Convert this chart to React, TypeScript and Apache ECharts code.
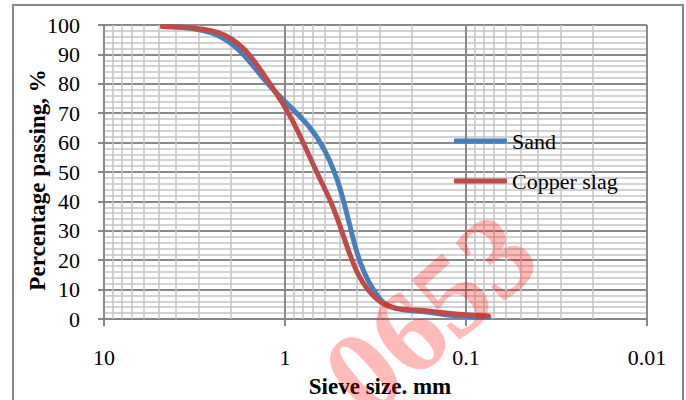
import React, { useEffect, useRef } from "react";
import * as echarts from "echarts";

const sieveSizes = [4.75, 2.36, 1.18, 0.6, 0.3, 0.15, 0.075];
const sandPassing = [99.5, 96.5, 78.5, 57, 7, 2, 0.6];
const slagPassing = [99.5, 97.5, 79, 44, 6, 2.5, 1];
const xTickLabels = ["10", "1", "0.1", "0.01"];
const decades = [1, 0.1, 0.01];
const minorMultipliers = [2, 3, 4, 5, 6, 7, 8, 9];

const SERIF = '"Liberation Serif", "Times New Roman", serif';

export default function App() {
  const ref = useRef<HTMLDivElement>(null);
  useEffect(() => {
    if (!ref.current) return;
    const chart = echarts.init(ref.current, undefined, { renderer: "svg" });
    const minorX: any[] = [];
    decades.forEach((d) => minorMultipliers.forEach((m) => minorX.push({ xAxis: +(d * m).toPrecision(3) })));
    chart.setOption({
      animation: false,
      backgroundColor: "#ffffff",
      grid: { left: 104, right: 39, top: 25, bottom: 81, outerBoundsMode: "none", containLabel: false },
      xAxis: {
        type: "log",
        logBase: 10,
        min: 0.01,
        max: 10,
        inverse: true,
        name: "Sieve size. mm",
        nameLocation: "middle",
        nameGap: 56,
        nameMoveOverlap: false,
        nameTextStyle: { fontFamily: SERIF, fontWeight: "bold", fontSize: 23, color: "#000", padding: [0, 0, 0, 9] },
        axisLine: { show: true, lineStyle: { color: "#868686", width: 2 } },
        axisTick: { show: true, length: 7, lineStyle: { color: "#868686", width: 2 } },
        axisLabel: {
          margin: 27,
          fontFamily: SERIF,
          fontSize: 22,
          color: "#000",
          formatter: (v: number) => {
            const i = Math.round(1 - Math.log10(v));
            return xTickLabels[i] ?? "";
          },
        },
        splitLine: { show: true, lineStyle: { color: "#8a8a8a", width: 2 } },
      },
      yAxis: {
        type: "value",
        min: 0,
        max: 100,
        interval: 10,
        name: "Percentage passing, %",
        nameLocation: "middle",
        nameGap: 55,
        nameMoveOverlap: false,
        nameTextStyle: { fontFamily: SERIF, fontWeight: "bold", fontSize: 23, color: "#000", padding: [0, 16, 0, 0] },
        axisLine: { show: false },
        axisTick: { show: true, length: 6, lineStyle: { color: "#868686", width: 2 } },
        axisLabel: { margin: 24, fontFamily: SERIF, fontSize: 22, color: "#000" },
        splitLine: { show: true, lineStyle: { color: "#8a8a8a", width: 2 } },
        minorTick: { show: false, splitNumber: 5 },
        minorSplitLine: { show: true, lineStyle: { color: "#c4c4c4", width: 1.5 } },
      },
      legend: {
        data: ["Sand", "Copper slag"],
        orient: "vertical",
        left: 454,
        top: 130,
        padding: 0,
        icon: "roundRect",
        itemWidth: 53,
        itemHeight: 5,
        itemGap: 18,
        textStyle: { fontFamily: SERIF, fontSize: 22, color: "#000" },
      },
      series: [
        {
          name: "minor",
          type: "line",
          data: [],
          z: 1,
          silent: true,
          markLine: {
            z: 1,
            silent: true,
            symbol: "none",
            label: { show: false },
            lineStyle: { color: "#c4c4c4", width: 1.5, type: "solid" },
            emphasis: { disabled: true },
            data: minorX,
          },
        },
        {
          name: "Sand",
          type: "line",
          z: 3,
          smooth: 0.4,
          symbol: "none",
          color: "#4A7EBB",
          lineStyle: { width: 5, color: "#4A7EBB", cap: "round" },
          data: sieveSizes.map((s, i) => [s, sandPassing[i]]),
        },
        {
          name: "Copper slag",
          type: "line",
          z: 4,
          smooth: 0.4,
          symbol: "none",
          color: "#BE4B48",
          lineStyle: { width: 5, color: "#BE4B48", cap: "round" },
          data: sieveSizes.map((s, i) => [s, slagPassing[i]]),
        },
      ],
      graphic: [
        {
          type: "rect",
          z: 0,
          silent: true,
          shape: { x: 13, y: 5, width: 670, height: 420 },
          style: { fill: "none", stroke: "#868686", lineWidth: 2 },
        },
        {
          type: "text",
          z: 100,
          silent: true,
          x: 430,
          y: 314,
          rotation: 0.72,
          style: {
            text: "0653",
            font: 'bold 118px "Liberation Serif"',
            fill: "rgba(255,0,0,0.27)",
            align: "center",
            verticalAlign: "middle",
          },
        },
      ],
    });
    return () => chart.dispose();
  }, []);
  return (
    <div
      ref={ref}
      style={{ position: "fixed", left: 0, top: 0, width: 686, height: 400 }}
    />
  );
}
